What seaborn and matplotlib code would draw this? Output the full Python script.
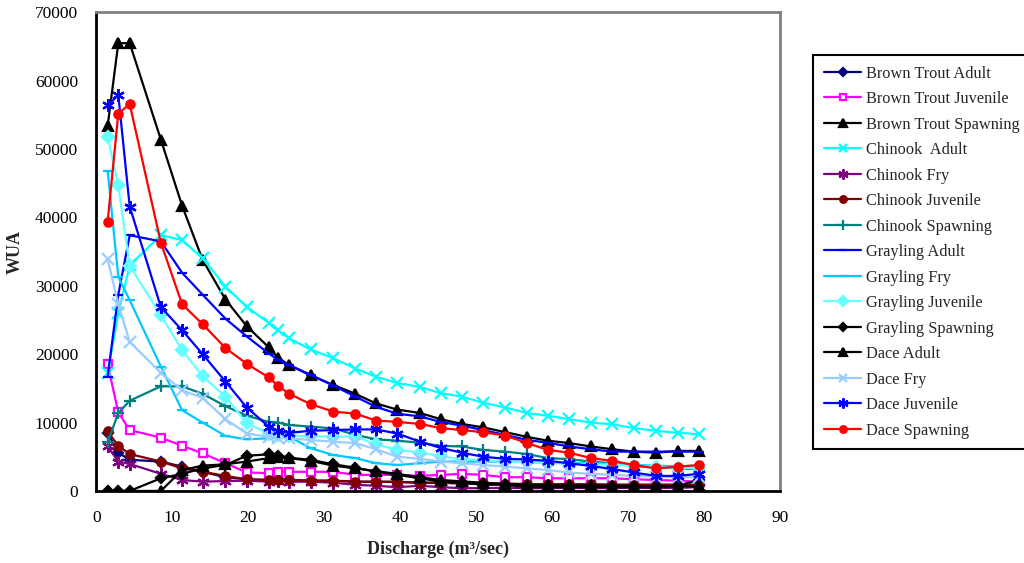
import pandas as pd
import seaborn as sns
import matplotlib.pyplot as plt
import numpy as np

# discharge values (m3/sec), shared by every series
discharge = [1.5, 2.9, 4.4, 8.5, 11.3, 14.0, 17.0, 19.8, 22.7, 23.9, 25.4, 28.2, 31.2, 34.1, 36.8,
             39.6, 42.6, 45.3, 48.1, 50.9, 53.8, 56.7, 59.4, 62.2, 65.1, 67.9, 70.7, 73.6, 76.5, 79.3]

# WUA
brown_trout_adult = [8500, 5600, 4550, 4300, 3550, 2800, 2000, 1700, 1600, 1600, 1600, 1500, 1500, 1350, 1350,
                     1300, 1200, 1200, 1100, 1100, 1050, 1000, 1000, 950, 950, 900, 900, 900, 900, 900]
brown_trout_juvenile = [18500, 11500, 8900, 7800, 6600, 5500, 4050, 2700, 2600, 2800, 2800, 2800, 2800, 2350, 2350,
                        2350, 2200, 2350, 2500, 2350, 2000, 2000, 1850, 1850, 1850, 1850, 1700, 1600, 1500, 1350]
brown_trout_spawning = [53400, 65500, 65500, 51400, 41700, 33800, 28000, 24100, 21000, 19500, 18400, 16900, 15500, 14200, 12800,
                        11900, 11400, 10500, 9800, 9300, 8600, 7900, 7350, 7000, 6500, 6100, 5750, 5600, 5850, 5850]
chinook_adult = [17200, 26000, 33000, 37400, 36700, 34000, 29900, 26900, 24600, 23500, 22300, 20700, 19400, 17900, 16700,
                 15800, 15200, 14300, 13800, 12900, 12200, 11400, 11000, 10500, 10000, 9750, 9200, 8800, 8500, 8300]
chinook_fry = [6500, 4300, 3950, 2500, 1600, 1350, 1450, 1500, 1350, 1450, 1350, 1350, 1200, 900, 750,
               550, 750, 550, 400, 400, 450, 400, 400, 450, 400, 400, 450, 400, 450, 550]
chinook_juvenile = [8700, 6600, 5400, 4300, 3300, 2800, 2200, 1700, 1600, 1600, 1600, 1500, 1500, 1350, 1350,
                    1350, 1200, 1200, 1100, 1100, 1050, 1000, 1000, 950, 950, 900, 900, 900, 900, 850]
chinook_spawning = [7100, 11400, 13200, 15300, 15300, 14200, 12400, 11000, 10100, 10000, 9650, 9400, 9150, 8200, 7550,
                    7350, 7050, 6600, 6500, 6000, 5750, 5400, 4800, 4650, 4300, 4050, 3650, 3450, 3300, 3200]
grayling_adult = [16700, 28700, 37400, 36500, 31900, 28700, 25200, 22600, 20100, 19200, 18400, 17000, 15400, 13800, 12300,
                  11300, 10900, 10100, 9550, 8900, 8200, 7450, 7050, 6500, 6100, 5750, 5750, 5750, 5750, 5750]
grayling_fry = [46800, 31300, 27900, 18200, 11800, 10000, 8050, 7550, 7700, 7800, 7950, 6250, 5250, 4800, 4050,
                3800, 4050, 4300, 4300, 4300, 4300, 4200, 4100, 4100, 4100, 3900, 3800, 3700, 3600, 3600]
grayling_juvenile = [51800, 44700, 32900, 25700, 20600, 16800, 13800, 9900, 8400, 8200, 8100, 8000, 7950, 7950, 6800,
                     6000, 5600, 5100, 4600, 4500, 4300, 4200, 4100, 4000, 3900, 3800, 3700, 3500, 3400, 3300]
grayling_spawning = [0, 0, 0, 1850, 2500, 3300, 3800, 5150, 5350, 5150, 4850, 4550, 3900, 3400, 2800,
                     2350, 1850, 1350, 1200, 900, 900, 550, 550, 550, 550, 550, 550, 550, 750, 1600]
dace_adult = [0, 0, 0, 0, 3050, 3700, 3900, 4300, 4800, 4900, 4800, 4400, 3700, 3300, 2900,
              2500, 2000, 1600, 1400, 1200, 1000, 900, 800, 800, 800, 750, 700, 700, 700, 650]
dace_fry = [33900, 27300, 21800, 17300, 14700, 13600, 10500, 8400, 7900, 7700, 7700, 7450, 7200, 7000, 6100,
            5000, 4700, 4300, 4050, 3800, 3550, 3300, 3050, 2700, 2500, 2350, 2200, 2100, 2000, 2000]
dace_juvenile = [56400, 57900, 41600, 26900, 23500, 20000, 16000, 12200, 9400, 8800, 8500, 8800, 8900, 9000, 9000,
                 8400, 7200, 6300, 5600, 5000, 4700, 4600, 4400, 4050, 3650, 3200, 2700, 2200, 2200, 2500]
dace_spawning = [39400, 55200, 56600, 36300, 27300, 24400, 20900, 18600, 16600, 15400, 14200, 12700, 11600, 11300, 10300,
                 10100, 9800, 9200, 8900, 8600, 8100, 7000, 6000, 5600, 4800, 4400, 3800, 3300, 3550, 3800]

series = {
    'Brown Trout Adult': brown_trout_adult,
    'Brown Trout Juvenile': brown_trout_juvenile,
    'Brown Trout Spawning': brown_trout_spawning,
    'Chinook  Adult': chinook_adult,
    'Chinook Fry': chinook_fry,
    'Chinook Juvenile': chinook_juvenile,
    'Chinook Spawning': chinook_spawning,
    'Grayling Adult': grayling_adult,
    'Grayling Fry': grayling_fry,
    'Grayling Juvenile': grayling_juvenile,
    'Grayling Spawning': grayling_spawning,
    'Dace Adult': dace_adult,
    'Dace Fry': dace_fry,
    'Dace Juvenile': dace_juvenile,
    'Dace Spawning': dace_spawning,
}

# (color, marker, marker face, marker size)
star = (6, 2, 0)
styles = {
    'Brown Trout Adult': ('#000080', 'D', '#000080', 5),
    'Brown Trout Juvenile': ('#FF00FF', 's', 'white', 6),
    'Brown Trout Spawning': ('black', '^', 'black', 7),
    'Chinook  Adult': ('#00FFFF', 'x', 'none', 8),
    'Chinook Fry': ('#800080', star, 'none', 9),
    'Chinook Juvenile': ('#800000', 'o', '#800000', 6),
    'Chinook Spawning': ('#008080', '+', 'none', 9),
    'Grayling Adult': ('#0000FF', '_', 'none', 7),
    'Grayling Fry': ('#00C8FF', '_', 'none', 7),
    'Grayling Juvenile': ('#66FFFF', 'D', '#66FFFF', 6),
    'Grayling Spawning': ('black', 'D', 'black', 5),
    'Dace Adult': ('black', '^', 'black', 7),
    'Dace Fry': ('#99CCFF', 'x', 'none', 8),
    'Dace Juvenile': ('#0000FF', star, 'none', 9),
    'Dace Spawning': ('#FF0000', 'o', '#FF0000', 6),
}

df = pd.DataFrame({'discharge': np.tile(discharge, len(series)),
                   'wua': np.concatenate([series[k] for k in series]),
                   'group': np.repeat(list(series.keys()), len(discharge))})

sns.set_style('white')
plt.rcParams['font.family'] = ['Liberation Serif', 'DejaVu Serif']

fig, ax = plt.subplots(figsize=(10.24, 5.63), dpi=100)
fig.subplots_adjust(left=0.094, right=0.762, bottom=0.128, top=0.978)

for name in series:
    color, marker, face, size = styles[name]
    sns.lineplot(data=df[df['group'] == name], x='discharge', y='wua', ax=ax,
                 color=color, marker=marker, markersize=size, markerfacecolor=face,
                 markeredgecolor=color, markeredgewidth=1.6, linewidth=1.6,
                 label=name, sort=False, errorbar=None)

ax.set_xlim(0, 90)
ax.set_ylim(0, 70000)
ax.set_xticks(range(0, 91, 10))
ax.set_yticks(range(0, 70001, 10000))
ax.tick_params(axis='both', direction='inout', length=8, width=1.5, labelsize=12.5, colors='black')
ax.tick_params(axis='x', pad=10)
ax.tick_params(axis='y', pad=9)
ax.set_xlabel('Discharge (m³/sec)', fontsize=13, fontweight='bold', labelpad=10)
ax.set_ylabel('WUA', fontsize=13, fontweight='bold', labelpad=8)

for side in ['left', 'bottom']:
    ax.spines[side].set_color('black')
    ax.spines[side].set_linewidth(2)
for side in ['top', 'right']:
    ax.spines[side].set_color('#808080')
    ax.spines[side].set_linewidth(2)

leg = ax.legend(loc='upper left', bbox_to_anchor=(813 / 1024, 1 - 55 / 563), bbox_transform=fig.transFigure,
                fontsize=11.8, frameon=True, fancybox=False, edgecolor='black', framealpha=1,
                handlelength=2.3, handletextpad=0.3, labelspacing=0.58, borderpad=0.65, borderaxespad=0)
leg.get_frame().set_linewidth(1.5)
for h in leg.legend_handles:
    h.set_markersize(h.get_markersize() * 0.8)

fig.savefig('out.png', dpi=100)
